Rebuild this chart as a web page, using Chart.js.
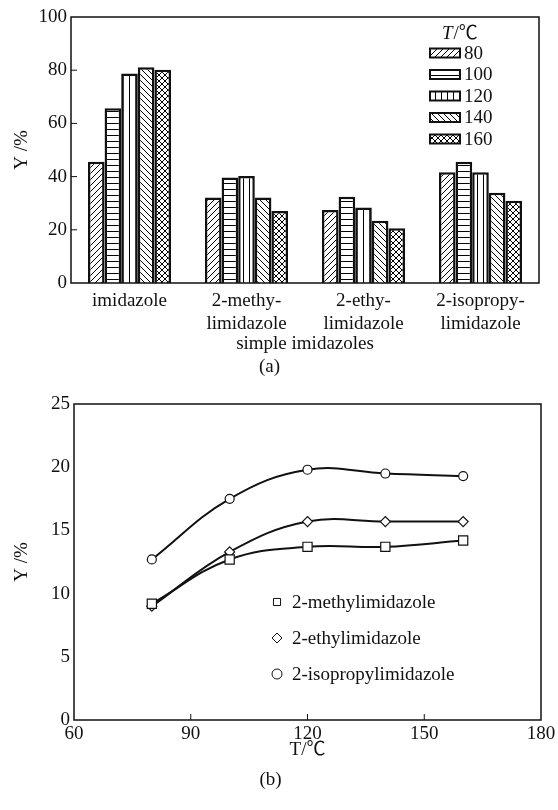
<!DOCTYPE html>
<html>
<head>
<meta charset="utf-8">
<script src="https://cdn.jsdelivr.net/npm/chart.js"></script>
<style>
  body { margin: 0; background: #fff; }
  #wrapA { position: absolute; left: 0; top: 0; }
  #wrapB { position: absolute; left: 0; top: 380px; }
</style>
</head>
<body>
<div id="wrapA"><canvas id="barChart" width="558" height="380"></canvas></div>
<div id="wrapB"><canvas id="lineChart" width="558" height="430"></canvas></div>
<script>
// ---- data (a) ----
var categories = [['imidazole'], ['2-methy-', 'limidazole'], ['2-ethy-', 'limidazole'], ['2-isopropy-', 'limidazole']];
var temps = ['80', '100', '120', '140', '160'];
var y80  = [45.6, 32.1, 27.4, 41.6];
var y100 = [65.7, 39.7, 32.4, 45.6];
var y120 = [78.8, 40.2, 28.4, 41.6];
var y140 = [81.1, 32.1, 23.4, 33.9];
var y160 = [80.2, 27.1, 20.6, 30.9];

// ---- data (b) ----
var tempPoints = [80, 100, 120, 140, 160];
var methylY    = [9.2, 12.7, 13.7, 13.7, 14.2];
var ethylY     = [9.0, 13.3, 15.7, 15.7, 15.7];
var isopropylY = [12.7, 17.5, 19.8, 19.5, 19.3];
var seriesNames = ['2-methylimidazole', '2-ethylimidazole', '2-isopropylimidazole'];

var FONT = '"Liberation Serif", "Noto Sans CJK SC", serif';
var INK = '#111';

// hatch patterns for the bars
function hatch(ctx, kind) {
  var c = document.createElement('canvas');
  c.width = 6; c.height = 6;
  var g = c.getContext('2d');
  g.fillStyle = '#fff';
  g.fillRect(0, 0, 6, 6);
  g.strokeStyle = '#000';
  g.lineWidth = 1;
  g.beginPath();
  if (kind == 'fwd' || kind == 'cross') {
    g.moveTo(0, 6); g.lineTo(6, 0);
    g.moveTo(-1, 1); g.lineTo(1, -1);
    g.moveTo(5, 7); g.lineTo(7, 5);
  }
  if (kind == 'back' || kind == 'cross') {
    g.moveTo(0, 0); g.lineTo(6, 6);
    g.moveTo(-1, 5); g.lineTo(1, 7);
    g.moveTo(5, -1); g.lineTo(7, 1);
  }
  if (kind == 'horiz') {
    g.moveTo(0, 3.5); g.lineTo(6, 3.5);
  }
  if (kind == 'vert') {
    g.moveTo(3.5, 0); g.lineTo(3.5, 6);
  }
  g.stroke();
  return ctx.createPattern(c, 'repeat');
}

// box around the plot + small inside ticks
var framePlugin = {
  id: 'frame',
  afterDraw: function(chart, args, opts) {
    var a = chart.chartArea, ctx = chart.ctx;
    ctx.save();
    ctx.strokeStyle = INK;
    ctx.lineWidth = 1.5;
    ctx.strokeRect(a.left, a.top, a.right - a.left, a.bottom - a.top);
    ctx.lineWidth = 1;
    ctx.beginPath();
    (opts.inside || []).forEach(function(id) {
      var s = chart.scales[id];
      s.ticks.forEach(function(t) {
        if (t.value == s.min || t.value == s.max) return;
        var p = s.getPixelForValue(t.value);
        if (s.isHorizontal()) { ctx.moveTo(p, a.bottom); ctx.lineTo(p, a.bottom - 6); }
        else { ctx.moveTo(a.left, p); ctx.lineTo(a.left + 6, p); }
      });
    });
    ctx.stroke();
    ctx.restore();
  }
};

// legend drawn inside the plot
function drawMarker(ctx, style, x, y, r) {
  ctx.beginPath();
  if (style == 'rect') {
    var s = r * Math.SQRT1_2;
    ctx.rect(x - s, y - s, 2 * s, 2 * s);
  } else if (style == 'rectRot') {
    ctx.moveTo(x, y - r); ctx.lineTo(x + r, y); ctx.lineTo(x, y + r); ctx.lineTo(x - r, y); ctx.closePath();
  } else {
    ctx.arc(x, y, r, 0, Math.PI * 2);
  }
  ctx.fillStyle = '#fff';
  ctx.fill();
  ctx.stroke();
}

var insideLegend = {
  id: 'insideLegend',
  afterDraw: function(chart, args, opts) {
    var ctx = chart.ctx;
    ctx.save();
    ctx.font = '19px ' + FONT;
    ctx.textBaseline = 'middle';
    ctx.fillStyle = INK;
    ctx.strokeStyle = INK;
    if (opts.title) {
      ctx.textAlign = 'left';
      ctx.font = 'italic 19px ' + FONT;
      ctx.fillText('T', opts.titleX, opts.titleY);
      var w = ctx.measureText('T').width;
      ctx.font = '19px ' + FONT;
      ctx.fillText('/℃', opts.titleX + w + 1, opts.titleY);
    }
    chart.data.datasets.forEach(function(ds, i) {
      var y = opts.y + i * opts.step;
      ctx.fillStyle = INK;
      if (opts.kind == 'box') {
        ctx.fillStyle = ds.backgroundColor;
        ctx.fillRect(opts.x, y - 4.5, 30, 9);
        ctx.lineWidth = 2;
        ctx.strokeRect(opts.x, y - 4.5, 30, 9);
        ctx.fillStyle = INK;
        ctx.fillText(ds.label, opts.x + 34, y + 1);
      } else {
        ctx.lineWidth = 1;
        drawMarker(ctx, ds.pointStyle, opts.x, y, 5);
        ctx.fillStyle = INK;
        ctx.textAlign = 'left';
        ctx.fillText(ds.label, opts.x + 15, y + 1);
      }
    });
    ctx.restore();
  }
};

// ---- chart (a) ----
var ctxA = document.getElementById('barChart').getContext('2d');
var kinds = ['fwd', 'horiz', 'vert', 'back', 'cross'];
var barValues = [y80, y100, y120, y140, y160];
var barSets = temps.map(function(t, i) {
  return {
    label: t,
    data: barValues[i],
    backgroundColor: hatch(ctxA, kinds[i]),
    borderColor: INK,
    borderWidth: 2.5
  };
});

new Chart(ctxA, {
  type: 'bar',
  data: { labels: categories, datasets: barSets },
  options: {
    responsive: false,
    animation: false,
    layout: { padding: { top: 17, right: 19, left: 0, bottom: 0 } },
    datasets: { bar: { categoryPercentage: 0.71, barPercentage: 1 } },
    plugins: {
      legend: { display: false },
      tooltip: { enabled: false },
      title: {
        display: true, text: '(a)', position: 'bottom', color: INK,
        font: { family: FONT, size: 19, weight: 'normal' },
        padding: { top: 0, bottom: 1.8 }
      },
      frame: { inside: ['y'] },
      insideLegend: { kind: 'box', title: true, titleX: 442, titleY: 34, x: 430, y: 53, step: 21.5 }
    },
    scales: {
      x: {
        grid: { display: false, drawTicks: false },
        border: { display: false },
        ticks: { color: INK, font: { family: FONT, size: 19 }, padding: 6.6, maxRotation: 0, autoSkip: false },
        title: { display: true, text: 'simple imidazoles', color: INK, font: { family: FONT, size: 19 }, padding: { top: 0, bottom: 0 } },
        afterFit: function(s) { s.height = 72.4; }
      },
      y: {
        min: 0, max: 100,
        grid: { display: false, drawTicks: false },
        border: { display: false },
        ticks: { stepSize: 20, color: INK, font: { family: FONT, size: 19 }, padding: 4 },
        title: { display: true, text: 'Y /%', color: INK, font: { family: FONT, size: 19 }, padding: { top: 11, bottom: 0 } },
        afterFit: function(s) { s.width = 71; }
      }
    }
  },
  plugins: [framePlugin, insideLegend]
});

// ---- chart (b) ----
var ctxB = document.getElementById('lineChart').getContext('2d');
var lineValues = [methylY, ethylY, isopropylY];
var styles = ['rect', 'rectRot', 'circle'];
var radii = [6.5, 5, 4.5];
var lineSets = seriesNames.map(function(name, i) {
  return {
    label: name,
    data: tempPoints.map(function(t, j) { return { x: t, y: lineValues[i][j] }; }),
    borderColor: INK,
    borderWidth: 2,
    tension: 0.4,
    pointStyle: styles[i],
    pointRadius: radii[i],
    pointBackgroundColor: '#fff',
    pointBorderColor: INK,
    pointBorderWidth: 1.2,
    fill: false
  };
});

new Chart(ctxB, {
  type: 'line',
  data: { datasets: lineSets },
  options: {
    responsive: false,
    animation: false,
    layout: { padding: { top: 24, right: 17, left: 0, bottom: 0 } },
    plugins: {
      legend: { display: false },
      tooltip: { enabled: false },
      title: {
        display: true, text: '(b)', position: 'bottom', color: INK,
        font: { family: FONT, size: 19, weight: 'normal' },
        padding: { top: 0, bottom: 18.6 }
      },
      frame: { inside: ['x'] },
      insideLegend: { kind: 'marker', title: false, x: 277, y: 222, step: 36 }
    },
    scales: {
      x: {
        type: 'linear', min: 60, max: 180,
        grid: { display: false, drawTicks: false },
        border: { display: false },
        ticks: { stepSize: 30, color: INK, font: { family: FONT, size: 19 }, padding: 2.6 },
        title: { display: true, text: 'T/℃', color: INK, font: { family: FONT, size: 19 }, padding: { top: 0, bottom: 7.2 } },
        afterFit: function(s) { s.height = 48.6; }
      },
      y: {
        min: 0, max: 25,
        grid: { display: false, drawTicks: false },
        border: { display: false },
        ticks: { stepSize: 5, color: INK, font: { family: FONT, size: 19 }, padding: 4 },
        title: { display: true, text: 'Y /%', color: INK, font: { family: FONT, size: 19 }, padding: { top: 11, bottom: 0 } },
        afterFit: function(s) { s.width = 74; }
      }
    }
  },
  plugins: [framePlugin, insideLegend]
});
</script>
</body>
</html>
